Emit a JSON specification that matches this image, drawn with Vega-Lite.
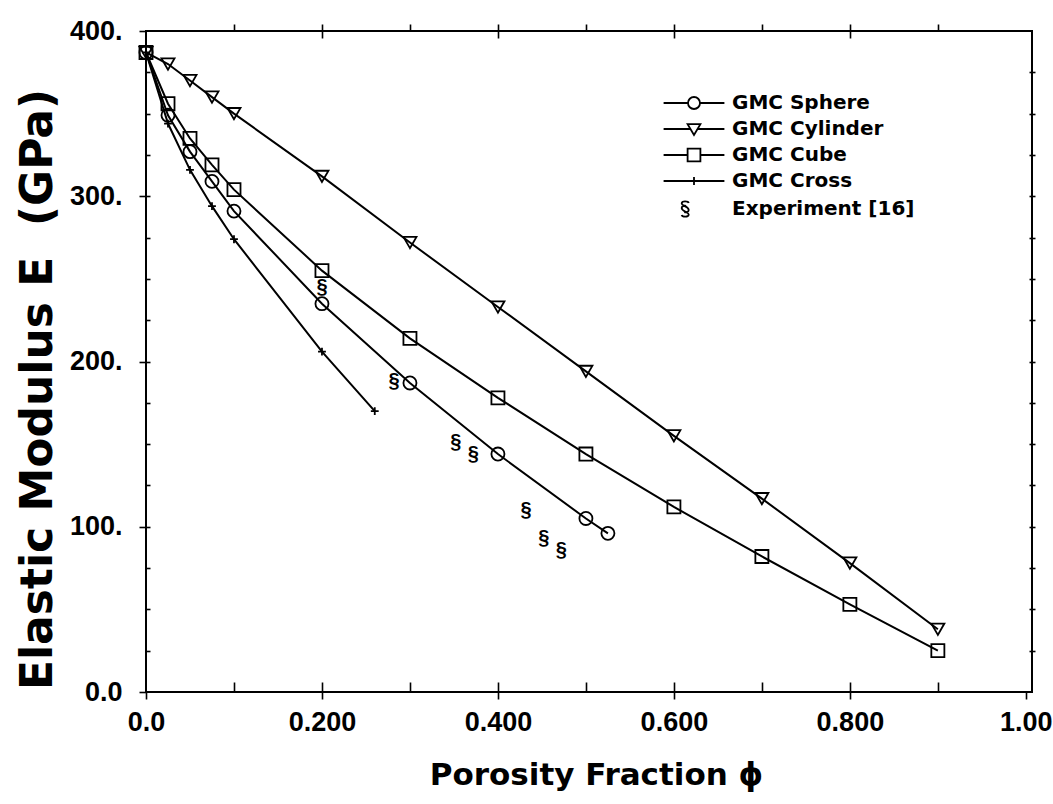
{
  "$schema": "https://vega.github.io/schema/vega-lite/v6.json",
  "autosize": {"type": "none"},
  "padding": {"left": 146, "top": 31, "right": 21, "bottom": 112},
  "width": 886,
  "height": 661,
  "background": "white",
  "config": {
    "view": {"stroke": "black", "strokeWidth": 2},
    "axis": {
      "grid": false,
      "domain": false,
      "labelFlush": false,
      "tickColor": "black",
      "tickWidth": 1.6,
      "labelFont": "Liberation Sans",
      "labelFontWeight": "bold",
      "labelFontSize": 27,
      "labelColor": "black",
      "titleFont": "DejaVu Sans",
      "titleFontWeight": "bold",
      "titleColor": "black"
    },
    "legend": {
      "labelFont": "DejaVu Sans",
      "labelFontWeight": "bold",
      "labelFontSize": 20,
      "labelColor": "black",
      "labelLimit": 400
    }
  },
  "data": {
    "values": [
      {"s": "GMC Sphere", "x": 0, "y": 387},
      {"s": "GMC Sphere", "x": 0.025, "y": 349},
      {"s": "GMC Sphere", "x": 0.05, "y": 327},
      {"s": "GMC Sphere", "x": 0.075, "y": 309},
      {"s": "GMC Sphere", "x": 0.1, "y": 291},
      {"s": "GMC Sphere", "x": 0.2, "y": 235},
      {"s": "GMC Sphere", "x": 0.3, "y": 187},
      {"s": "GMC Sphere", "x": 0.4, "y": 144},
      {"s": "GMC Sphere", "x": 0.5, "y": 105},
      {"s": "GMC Sphere", "x": 0.525, "y": 96},
      {"s": "GMC Cylinder", "x": 0, "y": 387},
      {"s": "GMC Cylinder", "x": 0.025, "y": 380},
      {"s": "GMC Cylinder", "x": 0.05, "y": 370},
      {"s": "GMC Cylinder", "x": 0.075, "y": 360},
      {"s": "GMC Cylinder", "x": 0.1, "y": 350},
      {"s": "GMC Cylinder", "x": 0.2, "y": 312},
      {"s": "GMC Cylinder", "x": 0.3, "y": 272},
      {"s": "GMC Cylinder", "x": 0.4, "y": 233},
      {"s": "GMC Cylinder", "x": 0.5, "y": 194},
      {"s": "GMC Cylinder", "x": 0.6, "y": 155},
      {"s": "GMC Cylinder", "x": 0.7, "y": 117},
      {"s": "GMC Cylinder", "x": 0.8, "y": 78},
      {"s": "GMC Cylinder", "x": 0.9, "y": 38},
      {"s": "GMC Cube", "x": 0, "y": 387},
      {"s": "GMC Cube", "x": 0.025, "y": 356},
      {"s": "GMC Cube", "x": 0.05, "y": 335},
      {"s": "GMC Cube", "x": 0.075, "y": 319},
      {"s": "GMC Cube", "x": 0.1, "y": 304},
      {"s": "GMC Cube", "x": 0.2, "y": 255},
      {"s": "GMC Cube", "x": 0.3, "y": 214},
      {"s": "GMC Cube", "x": 0.4, "y": 178},
      {"s": "GMC Cube", "x": 0.5, "y": 144},
      {"s": "GMC Cube", "x": 0.6, "y": 112},
      {"s": "GMC Cube", "x": 0.7, "y": 82},
      {"s": "GMC Cube", "x": 0.8, "y": 53},
      {"s": "GMC Cube", "x": 0.9, "y": 25},
      {"s": "GMC Cross", "x": 0, "y": 387},
      {"s": "GMC Cross", "x": 0.025, "y": 344},
      {"s": "GMC Cross", "x": 0.05, "y": 316},
      {"s": "GMC Cross", "x": 0.075, "y": 294},
      {"s": "GMC Cross", "x": 0.1, "y": 274},
      {"s": "GMC Cross", "x": 0.2, "y": 206},
      {"s": "GMC Cross", "x": 0.26, "y": 170},
      {"s": "Experiment [16]", "x": 0.2, "y": 245},
      {"s": "Experiment [16]", "x": 0.282, "y": 188},
      {"s": "Experiment [16]", "x": 0.352, "y": 151},
      {"s": "Experiment [16]", "x": 0.372, "y": 144},
      {"s": "Experiment [16]", "x": 0.432, "y": 110},
      {"s": "Experiment [16]", "x": 0.452, "y": 93},
      {"s": "Experiment [16]", "x": 0.472, "y": 86}
    ]
  },
  "resolve": {
    "scale": {"shape": "independent"},
    "axis": {"x": "independent", "y": "independent"}
  },
  "layer": [
    {
      "transform": [{"filter": "datum.s !== 'Experiment [16]'"}],
      "mark": {"type": "line", "color": "black", "strokeWidth": 2},
      "encoding": {
        "x": {
          "field": "x", "type": "quantitative",
          "scale": {"domain": [0, 1.007], "nice": false, "zero": false},
          "axis": {
            "orient": "bottom",
            "values": [0, 0.2, 0.4, 0.6, 0.8, 1],
            "tickSize": 7,
            "labelPadding": 10,
            "labelExpr": "datum.value == 0 ? '0.0' : (datum.value == 1 ? '1.00' : format(datum.value, '.3f'))",
            "title": "Porosity Fraction ϕ",
            "titleFontSize": 31,
            "titleX": 450,
            "titleY": 83,
            "titleBaseline": "middle",
            "titleAlign": "center"
          }
        },
        "y": {
          "field": "y", "type": "quantitative",
          "scale": {"domain": [0, 400], "nice": false},
          "axis": {
            "orient": "left",
            "values": [0, 100, 200, 300, 400],
            "tickSize": 7,
            "labelPadding": 17,
            "labelExpr": "datum.value == 0 ? '0.0' : datum.value + '.'",
            "title": "Elastic Modulus E\u00a0 (GPa)",
            "titleFontSize": 44,
            "titleX": -108,
            "titleY": 358,
            "titleAngle": -90,
            "titleBaseline": "middle",
            "titleAlign": "center"
          }
        },
        "detail": {"field": "s", "type": "nominal"}
      }
    },
    {
      "transform": [{"filter": "datum.s !== 'Experiment [16]'"}],
      "mark": {"type": "point", "filled": false, "color": "black", "strokeWidth": 1.8, "size": 170, "opacity": 1},
      "encoding": {
        "x": {
          "field": "x", "type": "quantitative",
          "axis": {"orient": "bottom", "values": [0.1, 0.2, 0.3, 0.4, 0.5, 0.6, 0.7, 0.8, 0.9], "tickSize": -10, "labels": false, "title": null}
        },
        "y": {
          "field": "y", "type": "quantitative",
          "axis": {"orient": "left", "values": [25, 50, 75, 100, 125, 150, 175, 200, 225, 250, 275, 300, 325, 350, 375], "tickSize": -4, "labels": false, "title": null}
        },
        "shape": {
          "field": "s", "type": "nominal",
          "scale": {
            "domain": ["GMC Sphere", "GMC Cylinder", "GMC Cube", "GMC Cross"],
            "range": ["circle", "triangle-down", "square", "M-0.6,0H0.6M0,-0.6V0.6"]
          },
          "legend": null
        }
      }
    },
    {
      "transform": [{"filter": "datum.s === 'Experiment [16]'"}],
      "mark": {"type": "text", "text": "§", "font": "Liberation Sans", "fontWeight": "bold", "fontSize": 20, "color": "black", "baseline": "middle", "align": "center"},
      "encoding": {
        "x": {
          "field": "x", "type": "quantitative",
          "axis": {"orient": "top", "values": [0.1, 0.2, 0.3, 0.4, 0.5, 0.6, 0.7, 0.8, 0.9], "tickSize": 7, "labels": false, "title": null}
        },
        "y": {
          "field": "y", "type": "quantitative",
          "axis": {"orient": "right", "values": [25, 50, 75, 100, 125, 150, 175, 200, 225, 250, 275, 300, 325, 350, 375], "tickSize": 3, "labels": false, "title": null}
        }
      }
    },
    {
      "transform": [{"filter": "datum.x < 0"}],
      "mark": {"type": "point", "filled": false, "color": "black", "strokeWidth": 2},
      "encoding": {
        "x": {
          "field": "x", "type": "quantitative",
          "axis": {"orient": "top", "values": [0.2, 0.4, 0.6, 0.8], "tickSize": -7, "labels": false, "title": null}
        },
        "y": {
          "field": "y", "type": "quantitative",
          "axis": {"orient": "right", "values": [25, 50, 75, 100, 125, 150, 175, 200, 225, 250, 275, 300, 325, 350, 375], "tickSize": -3, "labels": false, "title": null}
        },
        "shape": {
          "field": "s", "type": "nominal",
          "scale": {
            "domain": ["GMC Sphere", "GMC Cylinder", "GMC Cube", "GMC Cross", "Experiment [16]"],
            "range": [
              "M-3.8,0H-0.75M0.75,0H3.8M0.75,0A0.75,0.75,0,1,1,-0.75,0A0.75,0.75,0,1,1,0.75,0Z",
              "M-3.8,0H-0.44M0.44,0H3.8M-0.8,-0.6H0.8L0,0.75Z",
              "M-3.8,0H-0.8M0.8,0H3.8M-0.8,-0.8H0.8V0.8H-0.8Z",
              "M-3.8,0H3.8M0,-0.5V0.5",
              "M-0.66,-0.75C-0.72,-1.0,-1.54,-1.06,-1.54,-0.69C-1.54,-0.38,-0.66,-0.31,-0.66,0.12C-0.66,0.38,-0.98,0.44,-1.22,0.38M-1.54,0.75C-1.48,1.0,-0.66,1.06,-0.66,0.69C-0.66,0.38,-1.54,0.31,-1.54,-0.12C-1.54,-0.38,-1.22,-0.44,-0.98,-0.38"
            ]
          },
          "legend": {
            "title": null,
            "orient": "none",
            "legendX": 538,
            "legendY": 62,
            "padding": 0,
            "symbolSize": 256,
            "symbolStrokeWidth": 1.8,
            "symbolStrokeColor": "black",
            "symbolFillColor": "transparent",
            "symbolOpacity": 1,
            "labelOffset": 28,
            "rowPadding": 6
          }
        }
      }
    }
  ]
}
